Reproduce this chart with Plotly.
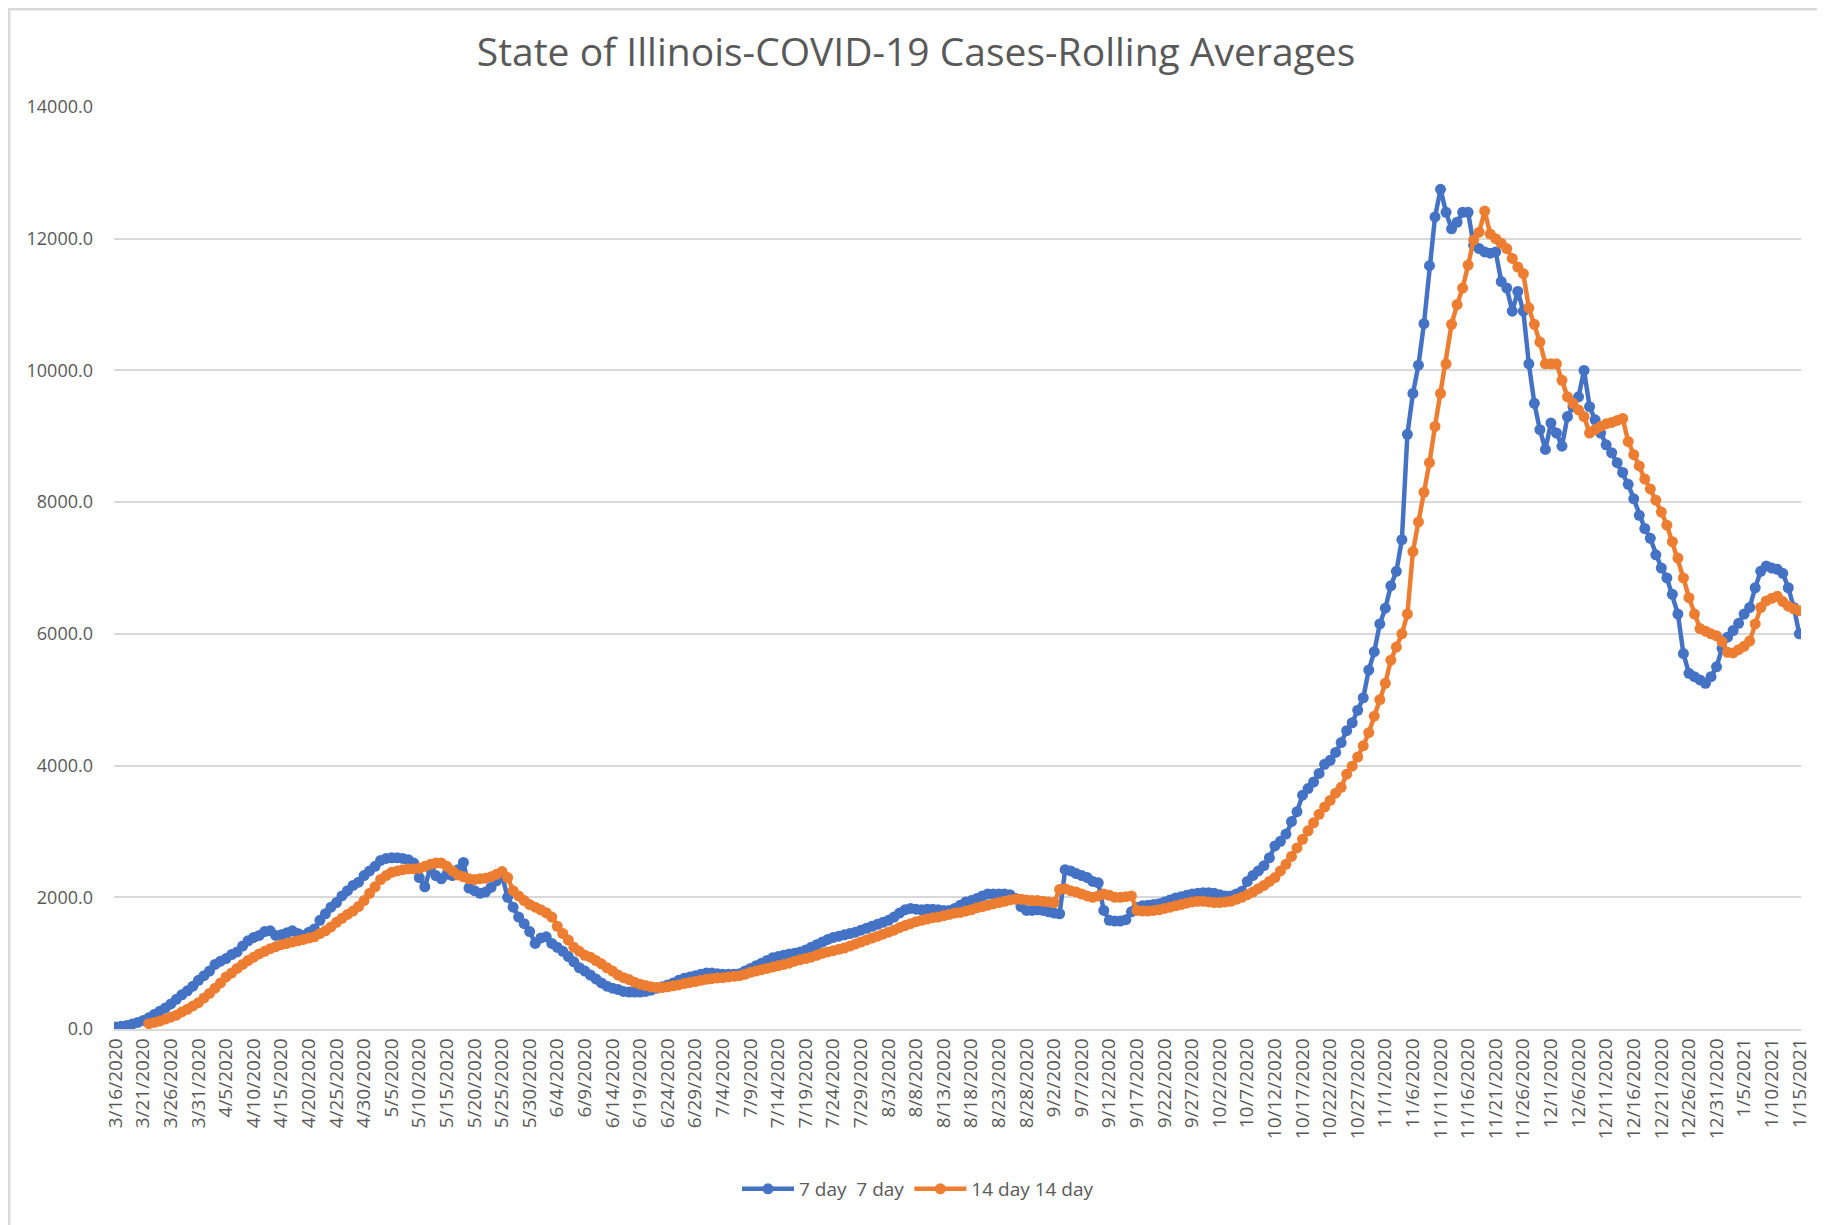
import plotly.graph_objects as go
import pandas as pd

# Categories: one per day, 3/16/2020 .. 1/15/2021
dates = pd.date_range("2020-03-16", "2021-01-15", freq="D")
date_labels = [f"{d.month}/{d.day}/{d.year}" for d in dates]
tick_labels = date_labels[::5]

title_text = "State of Illinois-COVID-19 Cases-Rolling Averages"
series_names = ["7 day  7 day", "14 day 14 day"]

seven_day = [
    30, 40, 55, 75, 100, 130, 170, 220, 270, 320,
    380, 450, 520, 580, 650, 740, 810, 880, 980, 1030,
    1070, 1130, 1170, 1260, 1340, 1390, 1420, 1480, 1490, 1420,
    1430, 1460, 1490, 1450, 1420, 1470, 1520, 1650, 1750, 1850,
    1920, 2020, 2100, 2180, 2230, 2330, 2400, 2470, 2560, 2590,
    2600, 2600, 2590, 2570, 2520, 2300, 2160, 2440, 2330, 2280,
    2350, 2330, 2420, 2530, 2140, 2100, 2060, 2080, 2150, 2250,
    2330, 2000, 1850, 1700, 1600, 1480, 1300, 1380, 1400, 1300,
    1240, 1180, 1100, 1020, 930, 880, 820, 760, 700, 650,
    620, 600, 570, 560, 560, 560, 570, 590, 620, 640,
    670, 700, 740, 770, 790, 810, 830, 850, 850, 840,
    830, 830, 830, 840, 880, 920, 960, 1000, 1040, 1080,
    1100, 1120, 1140, 1150, 1170, 1200, 1240, 1280, 1320, 1360,
    1390, 1410, 1430, 1450, 1470, 1500, 1530, 1560, 1590, 1620,
    1650, 1700, 1760, 1810, 1830, 1820, 1810, 1820, 1820, 1810,
    1800, 1800, 1830, 1880, 1930, 1950, 1980, 2020, 2050, 2050,
    2050, 2050, 2040, 1980, 1860, 1800, 1800, 1810, 1800, 1780,
    1760, 1750, 2420, 2400, 2360, 2330, 2300, 2240, 2220, 1800,
    1650, 1640, 1640, 1660, 1780, 1850, 1870, 1880, 1890, 1900,
    1930, 1960, 1990, 2010, 2030, 2050, 2060, 2070, 2070, 2060,
    2040, 2020, 2020, 2050, 2090, 2240, 2330, 2400, 2480, 2600,
    2780, 2850, 2960, 3150, 3300, 3550, 3650, 3750, 3880, 4020,
    4080, 4200, 4350, 4530, 4650, 4840, 5030, 5450, 5730, 6150,
    6390, 6730, 6950, 7430, 9030, 9650, 10080, 10710, 11590, 12330,
    12750, 12400, 12150, 12250, 12400, 12400, 11900, 11850, 11800, 11780,
    11800, 11350, 11250, 10900, 11200, 10900, 10100, 9500, 9100, 8800,
    9200, 9050, 8850, 9300, 9450, 9600, 10000, 9450, 9250, 9050,
    8870, 8750, 8600, 8450, 8270, 8050, 7800, 7600, 7450, 7200,
    7000, 6850, 6600, 6300, 5700, 5400, 5350, 5300, 5250, 5350,
    5500, 5780, 5950, 6050, 6160, 6300, 6400, 6700, 6950, 7030,
    7000, 6980, 6920, 6700, 6400, 6000,
]

fourteen_day = [
    None, None, None, None, None, None, 80, 100, 120, 150,
    180, 210, 260, 300, 350, 400, 470, 540, 620, 700,
    790, 850, 920, 980, 1040, 1090, 1140, 1180, 1220, 1250,
    1280, 1300, 1320, 1340, 1360, 1380, 1400, 1450, 1490, 1550,
    1620, 1680, 1740, 1790, 1860, 1950, 2060, 2160, 2270, 2330,
    2380, 2400, 2420, 2430, 2430, 2440, 2470, 2500, 2520, 2520,
    2470, 2400, 2340, 2310, 2280, 2270, 2280, 2290, 2310, 2350,
    2390, 2300, 2100, 2020, 1950, 1890, 1850, 1810, 1765, 1700,
    1560, 1450, 1350, 1240, 1180, 1120, 1090, 1040, 990, 930,
    880, 820, 780, 750, 710, 680, 660, 640, 630, 630,
    640, 655, 670, 690, 705, 720, 740, 755, 765, 775,
    780, 790, 800, 810, 830, 860, 880, 900, 920, 940,
    960, 980, 1000, 1030, 1050, 1070, 1090, 1120, 1150, 1170,
    1190, 1210, 1230, 1260, 1290, 1320, 1350, 1380, 1410, 1440,
    1470, 1500, 1540, 1570, 1600, 1630, 1650, 1670, 1690, 1700,
    1720, 1740, 1760, 1770, 1790, 1810, 1840, 1860, 1880, 1900,
    1920, 1940, 1960, 1970, 1970, 1960, 1950, 1950, 1940, 1930,
    1920, 2120, 2130, 2100, 2080, 2050, 2020, 2000, 2020, 2050,
    2030, 2000, 2000, 2010, 2020, 1800, 1790, 1790, 1800, 1810,
    1830, 1850, 1870, 1890, 1910, 1930, 1940, 1940, 1930, 1920,
    1920, 1930, 1940, 1970, 2000, 2040, 2080, 2130, 2180, 2240,
    2300, 2400, 2500, 2620, 2750, 2880, 3010, 3130, 3260, 3370,
    3470, 3580, 3670, 3870, 3990, 4130, 4300, 4500, 4750, 5000,
    5250, 5600, 5800, 6000, 6300, 7250, 7700, 8150, 8600, 9150,
    9650, 10100, 10700, 11000, 11250, 11600, 11980, 12100, 12420, 12070,
    12000, 11930, 11850, 11700, 11570, 11470, 10950, 10700, 10430, 10100,
    10100, 10100, 9850, 9600, 9500, 9400, 9300, 9050, 9100, 9150,
    9190, 9210, 9240, 9270, 8920, 8720, 8550, 8350, 8200, 8030,
    7850, 7650, 7400, 7150, 6850, 6550, 6300, 6080, 6040, 6000,
    5970, 5880, 5720, 5710, 5760, 5810, 5890, 6150, 6400, 6500,
    6540, 6570, 6490, 6420, 6380, 6350,
]

y_ticks = [0, 2000, 4000, 6000, 8000, 10000, 12000, 14000]

BLUE = "#4472C4"
ORANGE = "#ED7D31"
GRAY_TEXT = "#595959"
FONT = "Open Sans"

fig = go.Figure()
fig.add_trace(go.Scatter(
    x=date_labels, y=seven_day, name=series_names[0], mode="lines+markers",
    line=dict(color=BLUE, width=4.5), marker=dict(color=BLUE, size=11, symbol="circle"),
))
fig.add_trace(go.Scatter(
    x=date_labels, y=fourteen_day, name=series_names[1], mode="lines+markers",
    line=dict(color=ORANGE, width=4.5), marker=dict(color=ORANGE, size=11, symbol="circle"),
))

# page body has an 8px margin; the figure is sized/positioned to compensate
W, H = 1817, 1217
L, T = 106, 99
R = W - 1793
B = H - 1021
pw, ph = W - L - R, H - T - B

fig.update_layout(
    width=W, height=H,
    margin=dict(l=L, r=R, t=T, b=B),
    paper_bgcolor="white", plot_bgcolor="white",
    title=dict(text=title_text, x=(908 - L) / pw, xref="paper", xanchor="center",
               y=1 - 44 / H, yanchor="middle",
               font=dict(family=FONT, size=39, color=GRAY_TEXT)),
    font=dict(family=FONT, color=GRAY_TEXT),
    showlegend=True,
    legend=dict(orientation="h", x=(910 - L) / pw, xanchor="center",
                y=-(1181 - (T + ph)) / ph, yanchor="middle",
                font=dict(family=FONT, size=19, color=GRAY_TEXT),
                traceorder="normal", itemwidth=52),
    xaxis=dict(
        type="category", range=[-0.3, len(date_labels) - 0.7],
        tickmode="array", tickvals=tick_labels, ticktext=tick_labels,
        tickangle=-90, tickfont=dict(family=FONT, size=19, color=GRAY_TEXT),
        showgrid=False, showline=True, linecolor="#D9D9D9", linewidth=1.5,
        ticks="", ticklen=0,
    ),
    yaxis=dict(
        range=[0, 14000], tickvals=y_ticks, tickformat=".1f",
        tickfont=dict(family=FONT, size=18, color=GRAY_TEXT),
        showgrid=True, gridcolor="#D9D9D9", gridwidth=1.5,
        zeroline=False, showline=False, ticks="", ticklabelstandoff=20,
    ),
    shapes=[dict(type="rect", xref="paper", yref="paper",
                 x0=-(L - 1) / pw, x1=1 + (R + 6) / pw,
                 y0=-(B + 6) / ph, y1=1 + (T - 1) / ph,
                 line=dict(color="#D9D9D9", width=3), fillcolor="rgba(0,0,0,0)", layer="below")],
)

fig.write_html("out.html")
